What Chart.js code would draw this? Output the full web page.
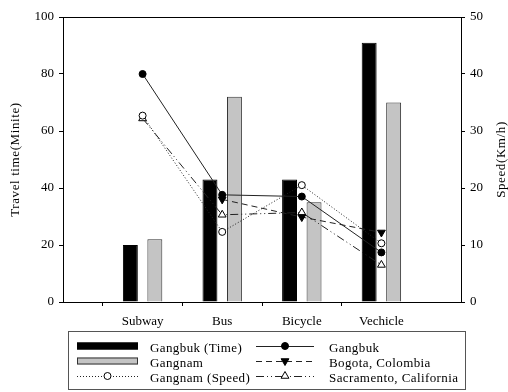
<!DOCTYPE html>
<html>
<head>
<meta charset="utf-8">
<script src="https://cdn.jsdelivr.net/npm/chart.js@4"></script>
<style>
  html, body { margin: 0; padding: 0; background: #fff; }
  #wrap { width: 508px; height: 392px; }
</style>
</head>
<body>
<div id="wrap"><canvas id="c" width="508" height="392"></canvas></div>
<script>
// Travel modes (empty slots pad both ends of the axis)
const modes = ['', 'Subway', 'Bus', 'Bicycle', 'Vechicle', ''];

// Travel time, minutes (left axis)
const timeGangbuk = [null, 20, 43, 43, 91, null];
const timeGangnam = [null, 22, 72, 35, 70, null];

// Speed, km/h (right axis)
const speedGangbuk = [null, 40, 18.8, 18.5, 8.7, null];
const speedBogota = [null, null, 18.0, 14.9, 12.2, null];
const speedGangnam = [null, 32.7, 12.3, 20.5, 10.3, null];
const speedSacramento = [null, 32.2, 15.3, 15.7, 6.5, null];

const leftTicks = { min: 0, max: 100, step: 20 };
const rightTicks = { min: 0, max: 50, step: 10 };

const FONT = "'Liberation Serif', 'Times New Roman', serif";
const font13 = { family: FONT, size: 13 };

function marker(ctx, style, x, y) {
  ctx.save();
  ctx.lineWidth = 1;
  ctx.strokeStyle = '#000';
  ctx.fillStyle = style.fill;
  ctx.setLineDash([]);
  ctx.beginPath();
  if (style.shape === 'circle') {
    ctx.arc(x, y, style.r, 0, Math.PI * 2);
  } else {
    const r = style.r;
    const dir = style.down ? 1 : -1;
    ctx.moveTo(x, y + dir * r);
    ctx.lineTo(x - r * 0.87, y - dir * r * 0.5);
    ctx.lineTo(x + r * 0.87, y - dir * r * 0.5);
    ctx.closePath();
  }
  ctx.fill();
  ctx.stroke();
  ctx.restore();
}

const frame = {
  id: 'frame',
  afterDraw(chart) {
    const { ctx, chartArea: a } = chart;
    ctx.save();
    // top border of the plot
    ctx.strokeStyle = '#000';
    ctx.lineWidth = 1;
    ctx.beginPath();
    ctx.moveTo(a.left, a.top + 0.5);
    ctx.lineTo(a.right, a.top + 0.5);
    ctx.stroke();

    // axis titles, both reading bottom to top
    ctx.fillStyle = '#000';
    ctx.font = '13px ' + FONT;
    ctx.letterSpacing = '0.6px';
    ctx.textAlign = 'center';
    ctx.textBaseline = 'middle';
    const cy = (a.top + a.bottom) / 2;
    [[16, 'Travel time(Minite)'], [502, 'Speed(Km/h)']].forEach(([x, t]) => {
      ctx.save();
      ctx.translate(x, cy);
      ctx.rotate(-Math.PI / 2);
      ctx.fillText(t, 0, 0);
      ctx.restore();
    });

    // legend box
    ctx.strokeStyle = '#555';
    ctx.strokeRect(68.5, 331.5, 397, 58);

    const rows = [346, 361, 376];
    const ds = chart.data.datasets;
    ctx.letterSpacing = '0.4px';
    ctx.textAlign = 'left';
    ctx.textBaseline = 'alphabetic';

    // left column: bars and Gangnam speed line
    const col1 = [ds[4], ds[5], ds[2]];
    col1.forEach((d, i) => {
      const y = rows[i];
      if (d.type === 'bar') {
        ctx.fillStyle = d.backgroundColor;
        ctx.fillRect(77, y - 3.5, 61, 7);
        ctx.strokeStyle = d.borderColor;
        ctx.lineWidth = 1;
        ctx.strokeRect(77.5, y - 3, 60, 6);
      } else {
        ctx.save();
        ctx.strokeStyle = d.borderColor;
        ctx.setLineDash(d.borderDash || []);
        ctx.beginPath();
        ctx.moveTo(77, y + 0.5);
        ctx.lineTo(138, y + 0.5);
        ctx.stroke();
        ctx.restore();
        marker(ctx, d.marker, 107.5, y);
      }
      ctx.fillStyle = '#000';
      ctx.fillText(d.label, 150, y + 5.5);
    });

    // right column: speed lines
    const col2 = [ds[0], ds[1], ds[3]];
    col2.forEach((d, i) => {
      const y = rows[i];
      ctx.save();
      ctx.strokeStyle = d.borderColor;
      ctx.setLineDash(d.borderDash || []);
      ctx.beginPath();
      ctx.moveTo(256, y + 0.5);
      ctx.lineTo(314, y + 0.5);
      ctx.stroke();
      ctx.restore();
      marker(ctx, d.marker, 285, y);
      ctx.fillStyle = '#000';
      ctx.fillText(d.label, 329, y + 5.5);
    });
    ctx.restore();
  }
};

function lineSet(label, data, dash, mk) {
  return {
    type: 'line',
    label,
    data,
    yAxisID: 'y1',
    order: 1,
    borderColor: '#222',
    borderWidth: 1,
    borderDash: dash,
    backgroundColor: mk.fill,
    pointBackgroundColor: mk.fill,
    pointBorderColor: '#000',
    pointBorderWidth: 1,
    pointStyle: mk.shape === 'circle' ? 'circle' : 'triangle',
    pointRotation: mk.down ? 180 : 0,
    pointRadius: mk.r,
    pointHoverRadius: mk.r,
    tension: 0,
    fill: false,
    marker: mk
  };
}

const datasets = [
  lineSet('Gangbuk', speedGangbuk, [], { shape: 'circle', fill: '#000', r: 3.5 }),
  lineSet('Bogota, Colombia', speedBogota, [6, 4], { shape: 'triangle', down: true, fill: '#000', r: 4.5 }),
  lineSet('Gangnam (Speed)', speedGangnam, [1, 2], { shape: 'circle', fill: '#fff', r: 3.5 }),
  lineSet('Sacramento, California', speedSacramento, [8, 3, 1, 3, 1, 3], { shape: 'triangle', fill: '#fff', r: 4.5 }),
  {
    type: 'bar', label: 'Gangbuk (Time)', data: timeGangbuk, yAxisID: 'y', order: 2,
    backgroundColor: '#000', borderColor: '#000', borderWidth: 1,
    categoryPercentage: 0.615, barPercentage: 0.61
  },
  {
    type: 'bar', label: 'Gangnam', data: timeGangnam, yAxisID: 'y', order: 2,
    backgroundColor: '#c4c4c4', borderColor: '#333', borderWidth: 1,
    categoryPercentage: 0.615, barPercentage: 0.61
  }
];

new Chart(document.getElementById('c'), {
  type: 'bar',
  data: { labels: modes, datasets },
  options: {
    responsive: false,
    animation: false,
    events: [],
    layout: { padding: { left: 0, right: 0, top: 17, bottom: 60 } },
    plugins: { legend: { display: false }, tooltip: { enabled: false } },
    scales: {
      x: {
        type: 'category',
        offset: false,
        grid: {
          drawOnChartArea: false,
          tickLength: 4,
          tickColor: c => (c.index === 0 || c.index === modes.length - 1) ? 'rgba(0,0,0,0)' : '#000'
        },
        border: { color: '#000', width: 1 },
        ticks: { font: font13, color: '#000', padding: 8, autoSkip: false, maxRotation: 0 },
        afterFit: s => { s.height = 30; }
      },
      y: {
        position: 'left',
        min: leftTicks.min, max: leftTicks.max,
        grid: { drawOnChartArea: false, tickLength: 4, tickColor: '#000' },
        border: { color: '#000', width: 1 },
        ticks: { stepSize: leftTicks.step, font: font13, color: '#000', padding: 5 },
        afterFit: s => { s.width = 63; }
      },
      y1: {
        position: 'right',
        min: rightTicks.min, max: rightTicks.max,
        grid: { drawOnChartArea: false, tickLength: 4, tickColor: '#000' },
        border: { color: '#000', width: 1 },
        ticks: { stepSize: rightTicks.step, font: font13, color: '#000', padding: 5 },
        afterFit: s => { s.width = 47; }
      }
    }
  },
  plugins: [frame]
});
</script>
</body>
</html>
